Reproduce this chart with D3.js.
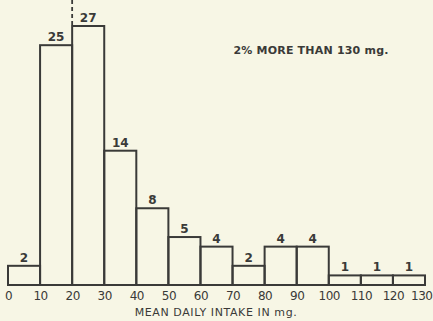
<!DOCTYPE html>
<html><head><meta charset="utf-8">
<script src="https://cdn.jsdelivr.net/npm/d3@7"></script>
<style>
html,body{margin:0;padding:0;background:#f7f6e5;}
svg{display:block;}
text{font-family:"DejaVu Sans",sans-serif;fill:#3a3a38;}
</style></head>
<body>
<script>
const binStarts = [0,10,20,30,40,50,60,70,80,90,100,110,120];
const counts = [2,25,27,14,8,5,4,2,4,4,1,1,1];
const tickLabels = [0,10,20,30,40,50,60,70,80,90,100,110,120,130];
const xTitle = "MEAN DAILY INTAKE IN mg.";
const note = "2% MORE THAN 130 mg.";
const median = 20;

const W=433,H=321;
const svg=d3.select("body").append("svg").attr("width",W).attr("height",H);
svg.append("rect").attr("width",W).attr("height",H).attr("fill","#f7f6e5");

const x=d3.scaleLinear().domain([0,130]).range([8,425]);
const y=d3.scaleLinear().domain([0,27]).range([285,26]);
const ink="#3a3a38";

const bars=binStarts.map((s,i)=>({s,e:s+10,c:counts[i]}));
svg.selectAll("rect.bar").data(bars).enter().append("rect")
 .attr("x",d=>x(d.s)).attr("y",d=>y(d.c))
 .attr("width",d=>x(d.e)-x(d.s)).attr("height",d=>y(0)-y(d.c))
 .attr("fill","none").attr("stroke",ink).attr("stroke-width",2);

svg.append("line").attr("x1",x(0)).attr("x2",x(130)).attr("y1",y(0)).attr("y2",y(0))
 .attr("stroke",ink).attr("stroke-width",2.2);

svg.selectAll("text.cnt").data(bars).enter().append("text")
 .attr("x",d=>(x(d.s)+x(d.e))/2).attr("y",d=>y(d.c)-4)
 .attr("text-anchor","middle").attr("font-size",12).attr("font-weight","bold")
 .text(d=>d.c);

svg.append("line").attr("x1",x(median)).attr("x2",x(median)).attr("y1",0).attr("y2",y(27)-1)
 .attr("stroke",ink).attr("stroke-width",1.8).attr("stroke-dasharray","4,3");

const axis=d3.axisBottom(x).tickValues(tickLabels).tickSize(0).tickPadding(0).tickFormat(d=>d);
const g=svg.append("g").attr("transform",`translate(0,${y(0)+4})`).call(axis);
g.select(".domain").remove();
g.selectAll("text").attr("font-size",12).attr("dy","0.9em").style("font-family","DejaVu Sans").attr("fill",ink).attr("letter-spacing","-0.5");
g.selectAll(".tick").filter(d=>d===130).select("text").attr("text-anchor","end").attr("x",432-x(130));

svg.append("text").attr("x",216).attr("y",316).attr("text-anchor","middle")
 .attr("font-size",11).attr("letter-spacing","0.6").text(xTitle);

svg.append("text").attr("x",311).attr("y",54).attr("text-anchor","middle")
 .attr("font-size",11).attr("font-weight","bold").attr("letter-spacing","0.2").text(note);
</script>
</body></html>
